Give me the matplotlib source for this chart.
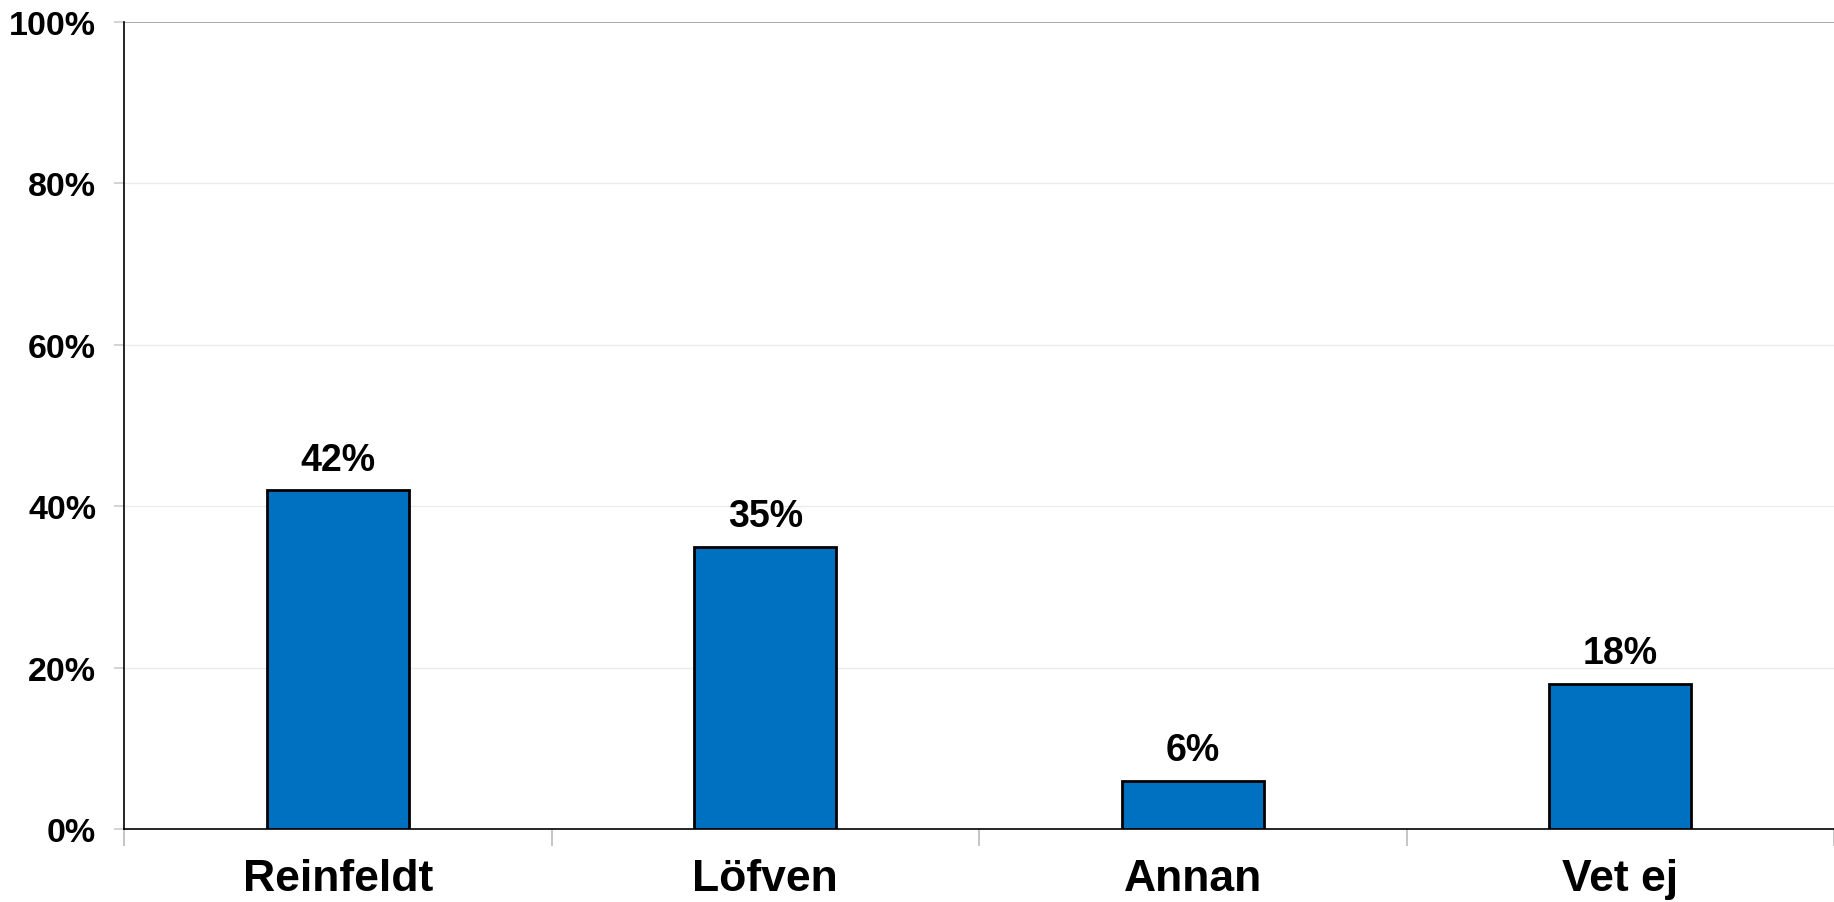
import matplotlib.pyplot as plt
import numpy as np

categories = ['Reinfeldt', 'Löfven', 'Annan', 'Vet ej']
values = [42, 35, 6, 18]
yticks = [0, 20, 40, 60, 80, 100]

plt.rcParams['font.family'] = ['Liberation Sans', 'DejaVu Sans']
plt.rcParams['font.weight'] = 'bold'

fig = plt.figure(figsize=(18.34, 9.03), dpi=100)
ax = fig.add_axes([124 / 1834, 1 - 830 / 903, (1834 - 124) / 1834, (830 - 23) / 903])

x = np.arange(len(categories))
bars = ax.bar(x, values, width=0.333, color='#0070C0', edgecolor='black', linewidth=2, zorder=3)

for xi, v in zip(x, values):
    ax.annotate('%d%%' % v, (xi, v), xytext=(0, 9), textcoords='offset points',
                ha='center', va='bottom', fontsize=27, fontweight='bold')

ax.set_xlim(-0.5, len(categories) - 0.5)
ax.set_ylim(0, 100)
ax.set_yticks(yticks)
ax.set_yticklabels(['%d%%' % t for t in yticks], fontsize=24.5, fontweight='bold')
for t in yticks[1:-1]:
    ax.axhline(t, color='#ebebeb', linewidth=1, zorder=0)
ax.axhline(100, color='#999999', linewidth=1.2, zorder=0)
ax.tick_params(axis='y', length=7, color='#cccccc', width=1.2, pad=13)

ax.set_xticks(x)
ax.set_xticklabels(categories, fontsize=32, fontweight='bold')
ax.set_xticks(np.arange(-0.5, len(categories)), minor=True)
ax.tick_params(axis='x', which='major', length=0, pad=21)
ax.tick_params(axis='x', which='minor', length=12, color='#bbbbbb', width=1.2)

for s in ['top', 'right']:
    ax.spines[s].set_visible(False)
ax.spines['left'].set_linewidth(1.2)
ax.spines['bottom'].set_linewidth(1.2)

fig.savefig('out.png', dpi=100)
